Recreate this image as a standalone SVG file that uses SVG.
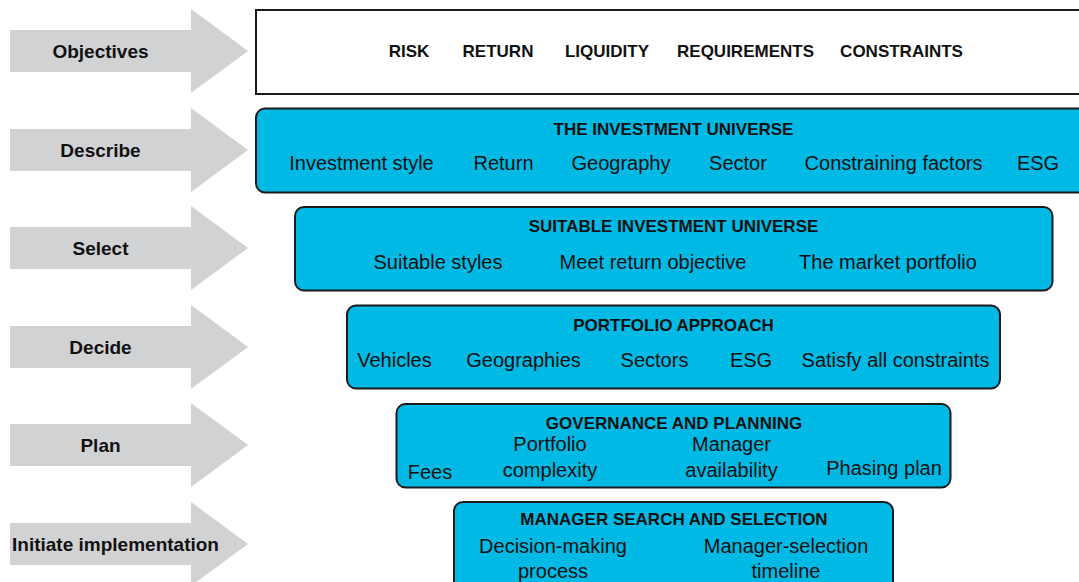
<svg xmlns="http://www.w3.org/2000/svg" width="1079" height="582" viewBox="0 0 1079 582">
<defs>
<style>
.arrow{fill:#d1d2d4;stroke:none}
.lbl{font-family:"Liberation Sans",Arial,sans-serif;font-weight:bold;font-size:19px;fill:#111;text-anchor:middle}
.box{fill:#00b9e4;stroke:#1a1a1a;stroke-width:2}
.obox{fill:#fff;stroke:#1a1a1a;stroke-width:2}
.title{font-family:"Liberation Sans",Arial,sans-serif;font-weight:bold;font-size:17px;fill:#111;text-anchor:middle}
.item{font-family:"Liberation Sans",Arial,sans-serif;font-size:20px;fill:#111;text-anchor:middle}
</style>
</defs>
<rect width="1079" height="582" fill="#fff"/>
<g id="arrows">
<polygon class="arrow" points="10,30 191,30 191,9 248,51 191,93 191,72 10,72"/>
<polygon class="arrow" points="10,129 191,129 191,108 248,150 191,192 191,171 10,171"/>
<polygon class="arrow" points="10,227 191,227 191,206 248,248 191,290 191,269 10,269"/>
<polygon class="arrow" points="10,326 191,326 191,305 248,347 191,389 191,368 10,368"/>
<polygon class="arrow" points="10,424 191,424 191,403 248,445 191,487 191,466 10,466"/>
<polygon class="arrow" points="10,523 191,523 191,502 248,544 191,586 191,565 10,565"/>
</g>
<g id="stage-labels">
<text class="lbl" x="100.5" y="58">Objectives</text>
<text class="lbl" x="100.5" y="157">Describe</text>
<text class="lbl" x="100.5" y="255">Select</text>
<text class="lbl" x="100.5" y="354">Decide</text>
<text class="lbl" x="100.5" y="452">Plan</text>
<text class="lbl" x="115.5" y="551">Initiate implementation</text>
</g>
<g id="objectives">
<rect class="obox" x="256" y="10" width="840" height="84"/>
<text class="title" x="409" y="57">RISK</text>
<text class="title" x="498" y="57">RETURN</text>
<text class="title" x="607" y="57">LIQUIDITY</text>
<text class="title" x="745.5" y="57">REQUIREMENTS</text>
<text class="title" x="901.5" y="57">CONSTRAINTS</text>
</g>
<g id="describe">
<rect class="box" x="256" y="108.5" width="840" height="84" rx="9"/>
<text class="title" x="673.5" y="135">THE INVESTMENT UNIVERSE</text>
<text class="item" x="361.5" y="170">Investment style</text>
<text class="item" x="503.5" y="170">Return</text>
<text class="item" x="621" y="170">Geography</text>
<text class="item" x="738" y="170">Sector</text>
<text class="item" x="893.5" y="170">Constraining factors</text>
<text class="item" x="1038" y="170">ESG</text>
</g>
<g id="select">
<rect class="box" x="295" y="207" width="757.5" height="83.5" rx="9"/>
<text class="title" x="673.5" y="232">SUITABLE INVESTMENT UNIVERSE</text>
<text class="item" x="438" y="269">Suitable styles</text>
<text class="item" x="653" y="269">Meet return objective</text>
<text class="item" x="888" y="269">The market portfolio</text>
</g>
<g id="decide">
<rect class="box" x="347" y="305.5" width="653" height="83" rx="9"/>
<text class="title" x="673.5" y="331">PORTFOLIO APPROACH</text>
<text class="item" x="394.5" y="367">Vehicles</text>
<text class="item" x="523.5" y="367">Geographies</text>
<text class="item" x="654.5" y="367">Sectors</text>
<text class="item" x="751" y="367">ESG</text>
<text class="item" x="895.5" y="367">Satisfy all constraints</text>
</g>
<g id="plan">
<rect class="box" x="396.5" y="404" width="554" height="83.5" rx="9"/>
<text class="title" x="674" y="429">GOVERNANCE AND PLANNING</text>
<text class="item" x="430" y="479">Fees</text>
<text class="item" x="550" y="451">Portfolio</text>
<text class="item" x="550" y="477">complexity</text>
<text class="item" x="731.5" y="451">Manager</text>
<text class="item" x="731.5" y="477">availability</text>
<text class="item" x="884" y="475">Phasing plan</text>
</g>
<g id="implement">
<rect class="box" x="454" y="502" width="439" height="100" rx="9"/>
<text class="title" x="674" y="525">MANAGER SEARCH AND SELECTION</text>
<text class="item" x="553" y="553">Decision-making</text>
<text class="item" x="553" y="578">process</text>
<text class="item" x="786" y="553">Manager-selection</text>
<text class="item" x="786" y="578">timeline</text>
</g>
<g id="connectors"></g>
</svg>
